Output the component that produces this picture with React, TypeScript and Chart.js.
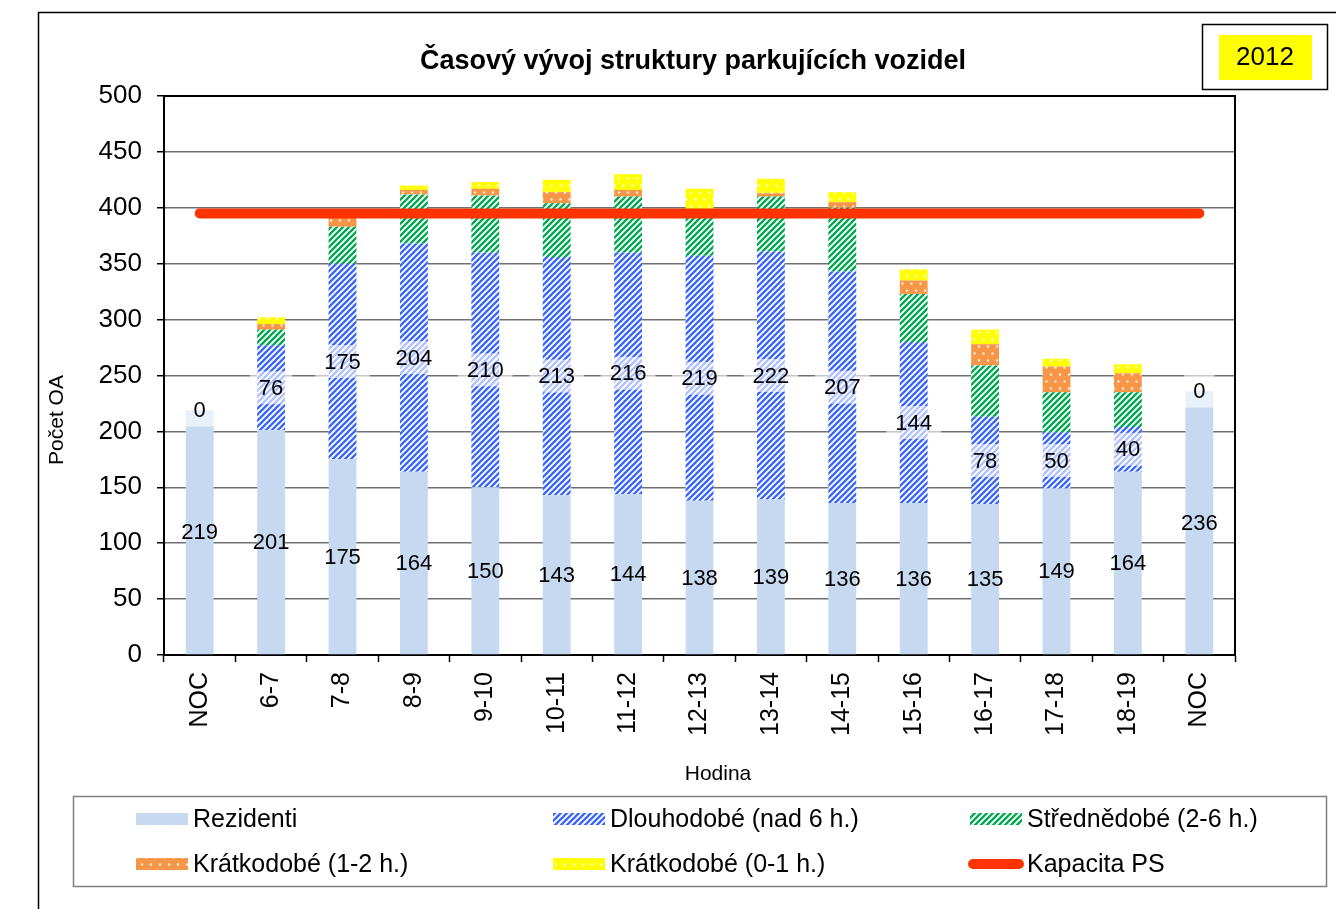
import React, { useEffect, useRef } from 'react';
import { Chart, registerables } from 'chart.js';

Chart.register(...registerables);

const FONT = "'Liberation Sans', Arial, Helvetica, sans-serif";

const categories = ['NOC', '6-7', '7-8', '8-9', '9-10', '10-11', '11-12', '12-13', '13-14', '14-15', '15-16', '16-17', '17-18', '18-19', 'NOC'];
const rezidenti = [219, 201, 175, 164, 150, 143, 144, 138, 139, 136, 136, 135, 149, 164, 236];
const dlouhodobe = [0, 76, 175, 204, 210, 213, 216, 219, 222, 207, 144, 78, 50, 40, 0];
const strednedobe = [0, 14, 33, 44, 51, 48, 50, 42, 49, 57, 43, 46, 36, 31, 0];
const kratkodobe12 = [0, 5, 8, 4, 6, 10, 6, 0, 3, 5, 12, 19, 23, 17, 0];
const kratkodobe01 = [0, 6, 0, 4, 6, 11, 14, 18, 13, 9, 10, 13, 7, 8, 0];
const kapacita = [395, 395, 395, 395, 395, 395, 395, 395, 395, 395, 395, 395, 395, 395, 395];

const seriesLabels = ['Rezidenti', 'Dlouhodobé (nad 6 h.)', 'Střednědobé (2-6 h.)', 'Krátkodobé (1-2 h.)', 'Krátkodobé (0-1 h.)', 'Kapacita PS'];
const titleText = 'Časový vývoj struktury parkujících vozidel';
const yearText = '2012';
const yTitle = 'Počet OA';
const xTitle = 'Hodina';

function makeStripes(color: string): CanvasPattern {
  const s = 6;
  const c = document.createElement('canvas');
  c.width = s;
  c.height = s;
  const g = c.getContext('2d')!;
  g.fillStyle = '#ffffff';
  g.fillRect(0, 0, s, s);
  g.strokeStyle = color;
  g.lineWidth = 2.3;
  g.beginPath();
  g.moveTo(-1, s + 1);
  g.lineTo(s + 1, -1);
  g.moveTo(-2, 2);
  g.lineTo(2, -2);
  g.moveTo(s - 2, s + 2);
  g.lineTo(s + 2, s - 2);
  g.stroke();
  return g.createPattern(c, 'repeat')!;
}

function makeDots(color: string): CanvasPattern {
  const w = 9;
  const h = 14;
  const c = document.createElement('canvas');
  c.width = w;
  c.height = h;
  const g = c.getContext('2d')!;
  g.fillStyle = color;
  g.fillRect(0, 0, w, h);
  g.fillStyle = 'rgba(255,255,255,0.85)';
  g.beginPath();
  g.arc(2.5, 3.5, 1.2, 0, Math.PI * 2);
  g.arc(7, 10.5, 1.2, 0, Math.PI * 2);
  g.fill();
  return g.createPattern(c, 'repeat')!;
}

const decorPlugin = {
  id: 'decor',
  beforeDraw(chart: any) {
    const ctx = chart.ctx;
    ctx.save();
    ctx.fillStyle = '#ffffff';
    ctx.fillRect(0, 0, chart.width, chart.height);
    ctx.strokeStyle = '#000000';
    ctx.lineWidth = 1.5;
    ctx.strokeRect(38.5, 12.5, 1400, 1000);
    ctx.restore();
  },
  afterDraw(chart: any) {
    const ctx = chart.ctx;
    const area = chart.chartArea;
    ctx.save();
    // plot area top/right border
    ctx.strokeStyle = '#000000';
    ctx.lineWidth = 2;
    ctx.beginPath();
    ctx.moveTo(area.left, area.top);
    ctx.lineTo(area.right, area.top);
    ctx.lineTo(area.right, area.bottom);
    ctx.stroke();

    // title
    ctx.fillStyle = '#000000';
    ctx.textAlign = 'center';
    ctx.textBaseline = 'middle';
    ctx.font = `bold 27px ${FONT}`;
    ctx.fillText(titleText, 693, 62);

    // year box
    ctx.lineWidth = 1.5;
    ctx.strokeStyle = '#000000';
    ctx.strokeRect(1202.5, 24.5, 125, 65);
    ctx.fillStyle = '#ffff00';
    ctx.fillRect(1219, 35, 93, 45);
    ctx.fillStyle = '#000000';
    ctx.font = `26px ${FONT}`;
    ctx.fillText(yearText, 1265, 58);

    // axis titles
    ctx.font = `21px ${FONT}`;
    ctx.fillText(xTitle, 718, 774);
    ctx.save();
    ctx.translate(57, 420);
    ctx.rotate(-Math.PI / 2);
    ctx.fillText(yTitle, 0, 0);
    ctx.restore();

    // legend box
    ctx.strokeStyle = '#808080';
    ctx.lineWidth = 1.5;
    ctx.strokeRect(73.5, 796.5, 1253, 90);
    const colX = [136, 553, 970];
    const rowY = [819, 864];
    ctx.font = `25px ${FONT}`;
    ctx.textAlign = 'left';
    chart.data.datasets.forEach((ds: any, i: number) => {
      const x = colX[i % 3];
      const y = rowY[Math.floor(i / 3)];
      if (ds.type === 'line') {
        ctx.strokeStyle = ds.borderColor;
        ctx.lineWidth = 10;
        ctx.lineCap = 'round';
        ctx.beginPath();
        ctx.moveTo(x + 3, y);
        ctx.lineTo(x + 49, y);
        ctx.stroke();
        ctx.lineCap = 'butt';
      } else {
        ctx.fillStyle = ds.backgroundColor;
        ctx.fillRect(x, y - 6, 52, 12);
      }
      ctx.fillStyle = '#000000';
      ctx.fillText(ds.label, x + 57, y + 1);
    });
    ctx.restore();
  },
};

const labelPlugin = {
  id: 'segLabels',
  afterDatasetsDraw(chart: any) {
    const ctx = chart.ctx;
    ctx.save();
    ctx.font = `22px ${FONT}`;
    ctx.textAlign = 'center';
    ctx.textBaseline = 'middle';
    [0, 1].forEach((di) => {
      const meta = chart.getDatasetMeta(di);
      const data = chart.data.datasets[di].data;
      meta.data.forEach((el: any, i: number) => {
        const p = el.getProps(['x', 'y', 'base'], true);
        const cy = (p.y + p.base) / 2;
        const txt = String(data[i]);
        if (di === 1) {
          const w = ctx.measureText(txt).width + 18;
          ctx.fillStyle = 'rgba(255,255,255,0.6)';
          ctx.fillRect(p.x - w / 2, cy - 16.5, w, 33);
        }
        ctx.fillStyle = '#000000';
        ctx.fillText(txt, p.x, cy + 1);
      });
    });
    ctx.restore();
  },
};

export default function App() {
  const ref = useRef<HTMLCanvasElement>(null);
  useEffect(() => {
    const blue = makeStripes('#3a66ff');
    const green = makeStripes('#00a850');
    const orange = makeDots('#f79646');
    const yellow = makeDots('#ffff00');
    const barCommon = { type: 'bar', barPercentage: 0.39, categoryPercentage: 1, borderWidth: 0, order: 1, stack: 'park' };
    const chart = new Chart(ref.current!, {
      type: 'bar',
      data: {
        labels: categories,
        datasets: [
          { ...barCommon, label: seriesLabels[0], data: rezidenti, backgroundColor: '#c6d9f0' },
          { ...barCommon, label: seriesLabels[1], data: dlouhodobe, backgroundColor: blue },
          { ...barCommon, label: seriesLabels[2], data: strednedobe, backgroundColor: green },
          { ...barCommon, label: seriesLabels[3], data: kratkodobe12, backgroundColor: orange },
          { ...barCommon, label: seriesLabels[4], data: kratkodobe01, backgroundColor: yellow },
          {
            type: 'line',
            label: seriesLabels[5],
            data: kapacita,
            borderColor: '#ff3300',
            backgroundColor: '#ff3300',
            borderWidth: 10,
            borderCapStyle: 'round',
            pointRadius: 0,
            fill: false,
            order: 0,
            stack: 'cap',
          },
        ] as any,
      },
      options: {
        responsive: false,
        animation: false,
        layout: { padding: { top: 96, left: 0, right: 101, bottom: 104 } },
        plugins: { legend: { display: false }, tooltip: { enabled: false }, title: { display: false } },
        scales: {
          x: {
            stacked: true,
            offset: true,
            afterFit(scale: any) { scale.height = 150; },
            grid: { display: true, offset: true, drawOnChartArea: false, drawTicks: true, tickLength: 7, tickColor: '#000000', tickWidth: 1.5 },
            border: { color: '#000000', width: 2 },
            ticks: { font: { family: FONT, size: 25 }, color: '#000000', padding: 10, minRotation: 90, maxRotation: 90, autoSkip: false },
          },
          y: {
            stacked: true,
            min: 0,
            max: 500,
            afterFit(scale: any) { scale.width = 164; },
            grid: { color: '#707070', lineWidth: 1.5, drawTicks: true, tickLength: 7, tickColor: '#000000', tickWidth: 1.5 },
            border: { color: '#000000', width: 2 },
            ticks: { stepSize: 50, font: { family: FONT, size: 26 }, color: '#000000', padding: 15 },
          },
        },
      } as any,
      plugins: [decorPlugin, labelPlugin],
    } as any);
    return () => chart.destroy();
  }, []);
  return (
    <div style={{ position: 'absolute', left: 0, top: 0, width: 1336, height: 909, background: '#ffffff' }}>
      <canvas ref={ref} width={1336} height={909} style={{ display: 'block', width: 1336, height: 909 }} />
    </div>
  );
}
